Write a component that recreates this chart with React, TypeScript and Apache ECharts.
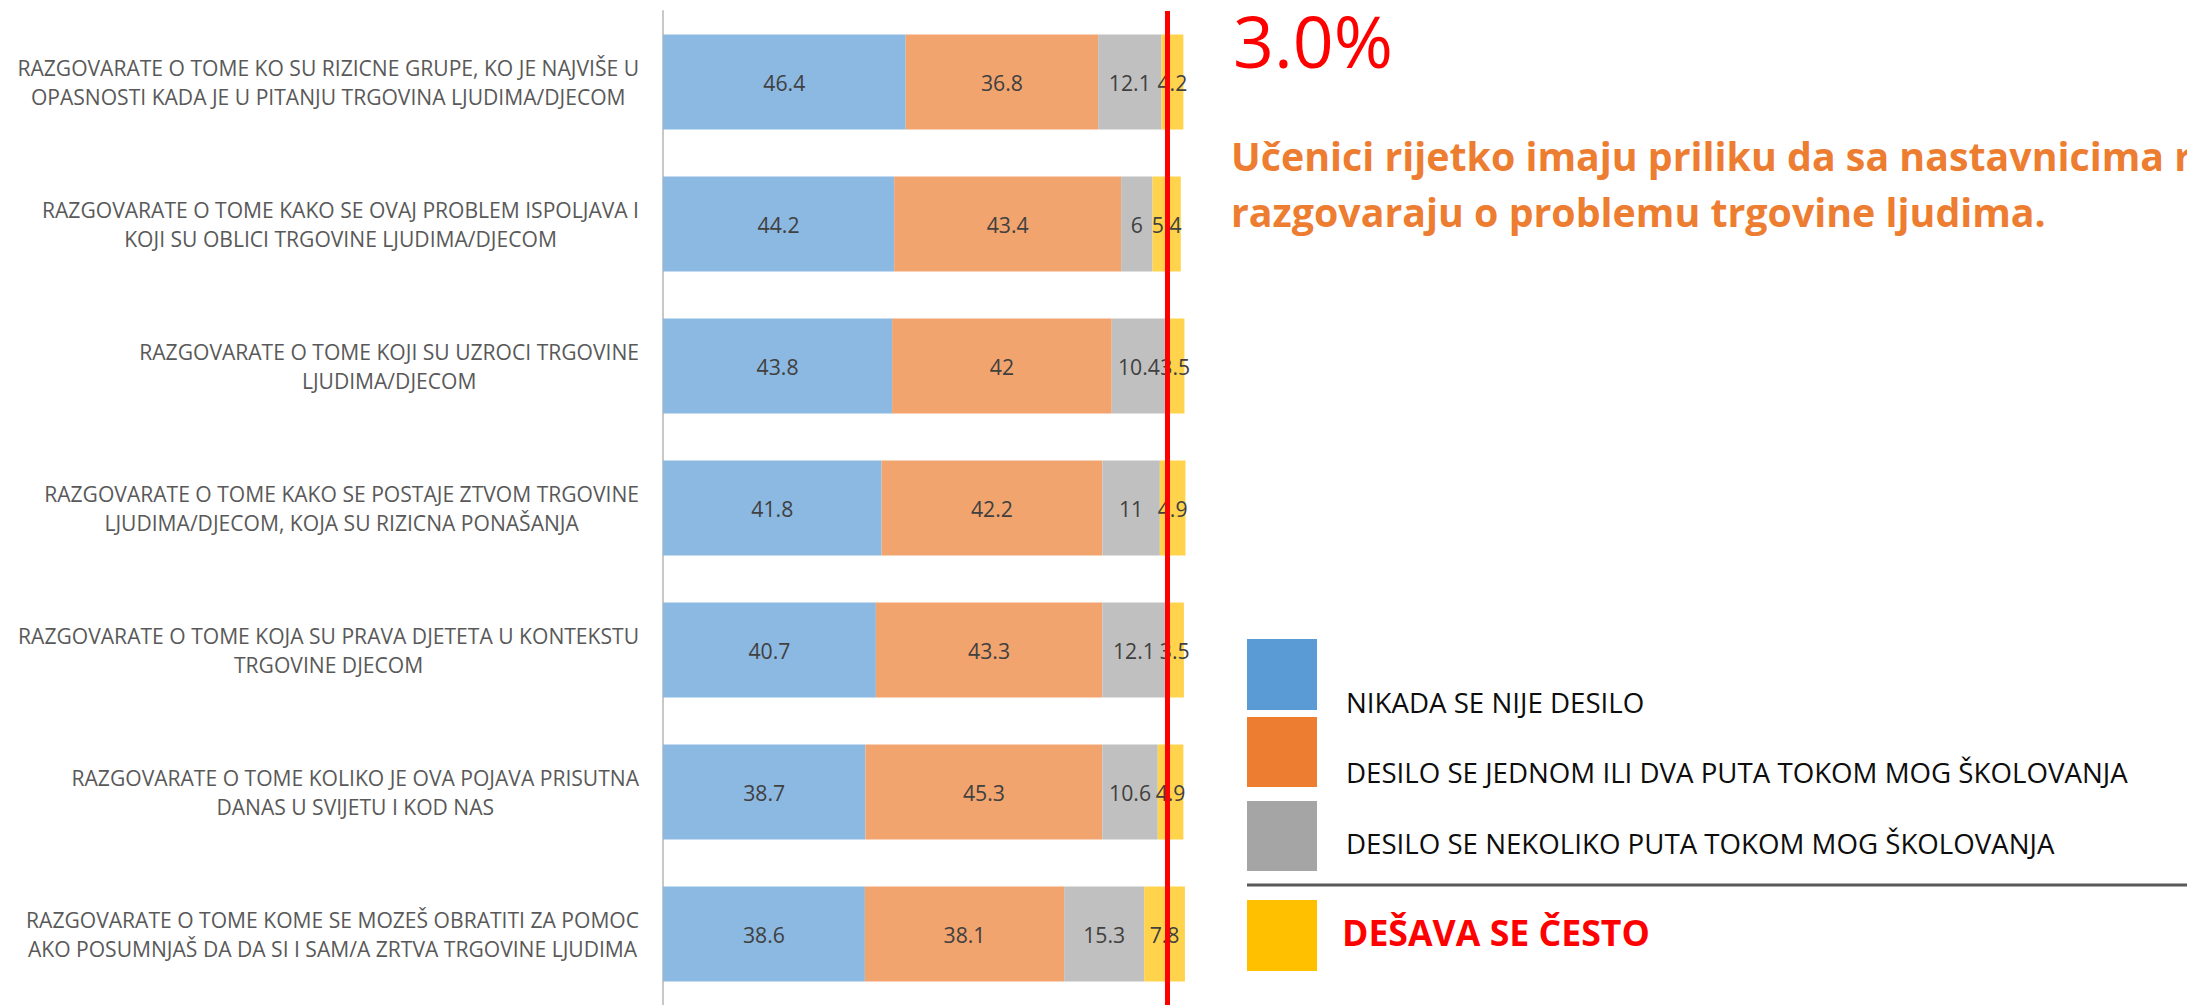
import React, { useEffect, useRef } from 'react';
import * as echarts from 'echarts';

// ---- data ----
const categories: string[] = [
  'RAZGOVARATE O TOME KO SU RIZICNE GRUPE, KO JE NAJVIŠE U\nOPASNOSTI KADA JE U PITANJU TRGOVINA LJUDIMA/DJECOM',
  'RAZGOVARATE O TOME KAKO SE OVAJ PROBLEM ISPOLJAVA I\nKOJI SU OBLICI TRGOVINE LJUDIMA/DJECOM',
  'RAZGOVARATE O TOME KOJI SU UZROCI TRGOVINE\nLJUDIMA/DJECOM',
  'RAZGOVARATE O TOME KAKO SE POSTAJE ZTVOM TRGOVINE\nLJUDIMA/DJECOM, KOJA SU RIZICNA PONAŠANJA',
  'RAZGOVARATE O TOME KOJA SU PRAVA DJETETA U KONTEKSTU\nTRGOVINE DJECOM',
  'RAZGOVARATE O TOME KOLIKO JE OVA POJAVA PRISUTNA\nDANAS U SVIJETU I KOD NAS',
  'RAZGOVARATE O TOME KOME SE MOZEŠ OBRATITI ZA POMOC\nAKO POSUMNJAŠ DA DA SI I SAM/A ZRTVA TRGOVINE LJUDIMA',
];

const seriesNames: string[] = [
  'NIKADA SE NIJE DESILO',
  'DESILO SE JEDNOM ILI DVA PUTA TOKOM MOG ŠKOLOVANJA',
  'DESILO SE NEKOLIKO PUTA TOKOM MOG ŠKOLOVANJA',
  'DEŠAVA SE ČESTO',
];

const neverHappened: number[] = [46.4, 44.2, 43.8, 41.8, 40.7, 38.7, 38.6];
const onceOrTwice: number[] = [36.8, 43.4, 42, 42.2, 43.3, 45.3, 38.1];
const severalTimes: number[] = [12.1, 6, 10.4, 11, 12.1, 10.6, 15.3];
const often: number[] = [4.2, 5.4, 3.5, 4.9, 3.5, 4.9, 7.8];

const referenceLineValue = 96.4;
const headlineValue = '3.0%';
const headlineLines: string[] = [
  'Učenici rijetko imaju priliku da sa nastavnicima r',
  'razgovaraju o problemu trgovine ljudima.',
];

// ---- styles ----
const legendColors = ['#5B9BD5', '#ED7D31', '#A5A5A5', '#FFC000'];
const barColors = ['#8CB9E2', '#F2A46F', '#C0C0C0', '#FFD34C'];
const NARROW = "'Liberation Sans Narrow', 'Open Sans', sans-serif";
const SANS = "'Open Sans', sans-serif";

function fitSize(text: string, weight: string, family: string, target: number): number {
  const c = document.createElement('canvas').getContext('2d');
  if (!c) return 20;
  c.font = `${weight} 100px ${family}`;
  const w = c.measureText(text).width;
  return w > 0 ? (100 * target) / w : 20;
}

export default function App() {
  const ref = useRef<HTMLDivElement>(null);

  useEffect(() => {
    document.body.style.margin = '0';
    if (!ref.current) return;
    const chart = echarts.init(ref.current, undefined, { renderer: 'svg' });

    const catSize = fitSize(categories[0].split('\n')[0], 'normal', NARROW, 622);
    const valSize = fitSize('46.4', 'normal', SANS, 42);
    const headSize = fitSize(headlineValue, 'normal', SANS, 160);
    const subSize = fitSize(headlineLines[1], 'bold', SANS, 815);
    const legSize = fitSize(seriesNames[1], 'normal', NARROW, 782);
    const legBoldSize = fitSize(seriesNames[3], 'bold', NARROW, 308);

    const allData = [neverHappened, onceOrTwice, severalTimes, often];

    const series: any[] = allData.map((d, i) => ({
      type: 'bar',
      name: seriesNames[i],
      stack: 'total',
      data: d,
      barWidth: '67%',
      itemStyle: { color: barColors[i] },
      label: {
        show: true,
        position: 'inside',
        color: '#404040',
        fontSize: valSize,
        fontFamily: SANS,
        textBorderWidth: 0,
        formatter: '{c}',
      },
      emphasis: { disabled: true },
      silent: true,
    }));
    series[3].markLine = {
      silent: true,
      symbol: 'none',
      z: 10,
      label: { show: false },
      lineStyle: { color: '#FF0000', width: 5, type: 'solid' },
      data: [{ xAxis: referenceLineValue }],
    };

    const legendRows = [
      { y: 639, h: 71, textY: 702 },
      { y: 717, h: 70, textY: 772 },
      { y: 801, h: 70, textY: 843 },
      { y: 900, h: 71, textY: 932 },
    ];

    const graphic: any[] = [
      {
        type: 'text',
        left: 1233,
        top: 4,
        style: { text: headlineValue, fill: '#FF0000', fontSize: headSize, fontFamily: SANS },
      },
      {
        type: 'text',
        x: 1231,
        y: 153 + 0.07 * subSize,
        style: {
          text: headlineLines[0],
          fill: '#ED7D31',
          fontSize: subSize,
          fontWeight: 'bold',
          fontFamily: SANS,
          verticalAlign: 'middle',
        },
      },
      {
        type: 'text',
        x: 1231,
        y: 209 + 0.07 * subSize,
        style: {
          text: headlineLines[1],
          fill: '#ED7D31',
          fontSize: subSize,
          fontWeight: 'bold',
          fontFamily: SANS,
          verticalAlign: 'middle',
        },
      },
      {
        type: 'line',
        shape: { x1: 1247, y1: 885, x2: 2187, y2: 885 },
        style: { stroke: '#595959', lineWidth: 3 },
      },
    ];
    legendRows.forEach((r, i) => {
      graphic.push({
        type: 'rect',
        shape: { x: 1247, y: r.y, width: 70, height: r.h },
        style: { fill: legendColors[i] },
      });
      const last = i === 3;
      graphic.push({
        type: 'text',
        x: last ? 1342 : 1346,
        y: r.textY,
        style: {
          text: seriesNames[i],
          fill: last ? '#FF0000' : '#0D0D0D',
          fontSize: last ? legBoldSize : legSize,
          fontWeight: last ? 'bold' : 'normal',
          fontFamily: NARROW,
          verticalAlign: 'middle',
        },
      });
    });

    chart.setOption({
      animation: false,
      backgroundColor: '#FFFFFF',
      grid: { left: 663, width: 523, top: 11, height: 997 },
      xAxis: { type: 'value', min: 0, max: 100, show: false },
      yAxis: {
        type: 'category',
        inverse: true,
        data: categories,
        axisLine: { show: true, lineStyle: { color: '#C8C8C8', width: 2 } },
        axisTick: { show: false },
        splitLine: { show: false },
        axisLabel: {
          margin: 24,
          align: 'right',
          formatter: (v: string) =>
            v
              .split('\n')
              .map((l) => `{c|${l}}`)
              .join('\n'),
          rich: {
            c: {
              align: 'center',
              fontSize: catSize,
              fontFamily: NARROW,
              color: '#595959',
              lineHeight: 29,
            },
          },
        },
      },
      series,
      graphic,
    });

    return () => chart.dispose();
  }, []);

  return <div ref={ref} style={{ width: 2187, height: 1005 }} />;
}
